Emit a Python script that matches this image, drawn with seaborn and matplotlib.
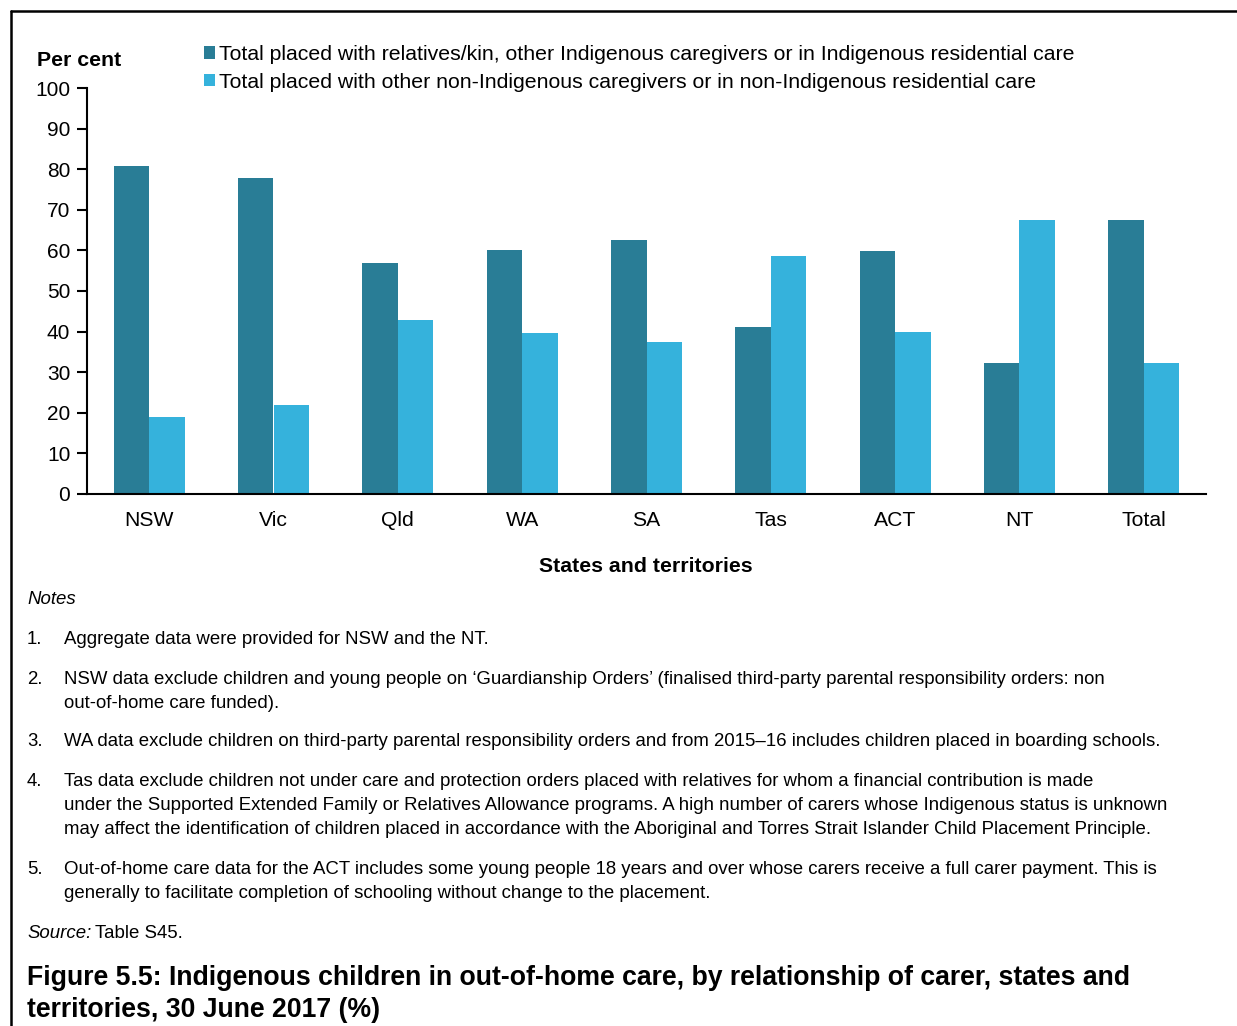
import pandas as pd
import seaborn as sns
import matplotlib.pyplot as plt
from matplotlib.patches import Patch
from matplotlib.lines import Line2D

states = ["NSW", "Vic", "Qld", "WA", "SA", "Tas", "ACT", "NT", "Total"]
indigenous = [80.8, 77.8, 56.9, 60.1, 62.5, 41.1, 59.9, 32.2, 67.5]
non_indigenous = [19.0, 21.9, 42.9, 39.7, 37.4, 58.6, 39.9, 67.6, 32.3]
series_names = [
    "Total placed with relatives/kin, other Indigenous caregivers or in Indigenous residential care",
    "Total placed with other non-Indigenous caregivers or in non-Indigenous residential care",
]
colors = ["#297D96", "#35B2DC"]

# each note: number, list of lines
notes = [
    ("1.", ["Aggregate data were provided for NSW and the NT."]),
    ("2.", ["NSW data exclude children and young people on \u2018Guardianship Orders\u2019 (finalised third-party parental responsibility orders: non",
            "out-of-home care funded)."]),
    ("3.", ["WA data exclude children on third-party parental responsibility orders and from 2015\u201316 includes children placed in boarding schools."]),
    ("4.", ["Tas data exclude children not under care and protection orders placed with relatives for whom a financial contribution is made",
            "under the Supported Extended Family or Relatives Allowance programs. A high number of carers whose Indigenous status is unknown",
            "may affect the identification of children placed in accordance with the Aboriginal and Torres Strait Islander Child Placement Principle."]),
    ("5.", ["Out-of-home care data for the ACT includes some young people 18 years and over whose carers receive a full carer payment. This is",
            "generally to facilitate completion of schooling without change to the placement."]),
]
title_lines = [
    "Figure 5.5: Indigenous children in out-of-home care, by relationship of carer, states and",
    "territories, 30 June 2017 (%)",
]

df = pd.DataFrame({
    "state": states * 2,
    "value": indigenous + non_indigenous,
    "series": [series_names[0]] * len(states) + [series_names[1]] * len(states),
})

sns.set_style("white")
plt.rcParams["font.family"] = ["Liberation Sans", "DejaVu Sans"]
plt.rcParams["text.color"] = "black"
plt.rcParams["xtick.color"] = "black"
plt.rcParams["ytick.color"] = "black"
plt.rcParams["axes.labelcolor"] = "black"

W, H = 1237, 1026
fig = plt.figure(figsize=(W / 100, H / 100), dpi=100)
ax = fig.add_axes([87 / W, 1 - 494 / H, (1206 - 87) / W, (494 - 88) / H])

sns.barplot(data=df, x="state", y="value", hue="series", palette=colors,
            width=0.572, gap=0, saturation=1, legend=False, ax=ax, edgecolor="none")

ax.set_ylim(0, 100)
ax.set_xlim(-0.5, 8.5)
ax.set_yticks(range(0, 101, 10))
ax.tick_params(axis="y", direction="out", length=7, width=1.5, labelsize=15, pad=5, left=True)
ax.tick_params(axis="x", length=0, labelsize=15.2, pad=12)
for side in ["top", "right"]:
    ax.spines[side].set_visible(False)
for side in ["left", "bottom"]:
    ax.spines[side].set_linewidth(1.5)
    ax.spines[side].set_color("black")
ax.set_xlabel("")
ax.set_ylabel("")


def ypos(px):
    # pixel row of the visual text centre -> figure fraction
    return 1 - (px + 2) / H


fig.text(37 / W, ypos(58), "Per cent", fontsize=15.3, fontweight="bold", va="center")
fig.text(646 / W, ypos(565), "States and territories", fontsize=15.3, fontweight="bold",
         ha="center", va="center")

handles = [Patch(facecolor=c, edgecolor="none") for c in colors]
fig.legend(handles, series_names, loc="upper left", bbox_to_anchor=(204 / W, 1 - 45 / H),
           frameon=False, fontsize=15.3, handlelength=0.5, handleheight=0.5,
           handletextpad=0.2, labelspacing=0.42, borderpad=0, borderaxespad=0)

fs = 13.4
fig.text(27 / W, ypos(597), "Notes", fontsize=fs, style="italic", va="center")
note_y = [637, 677, 740, 780, 868]
for (num, lines), y in zip(notes, note_y):
    fig.text(27 / W, ypos(y), num, fontsize=fs, va="center")
    for i, line in enumerate(lines):
        fig.text(64 / W, ypos(y + 24 * i), line, fontsize=fs, va="center")

fig.text(27 / W, ypos(932), "Source:", fontsize=fs, style="italic", va="center")
fig.text(95 / W, ypos(932), "Table S45.", fontsize=fs, va="center")

for i, line in enumerate(title_lines):
    fig.text(27 / W, ypos(976 + 32 * i), line, fontsize=19.2, fontweight="bold", va="center")

fig.add_artist(Line2D([11 / W, 1], [1 - 11 / H, 1 - 11 / H], color="black", lw=1.8,
                      transform=fig.transFigure))
fig.add_artist(Line2D([11 / W, 11 / W], [0, 1 - 11 / H], color="black", lw=1.8,
                      transform=fig.transFigure))

fig.savefig("out.png", dpi=100)
